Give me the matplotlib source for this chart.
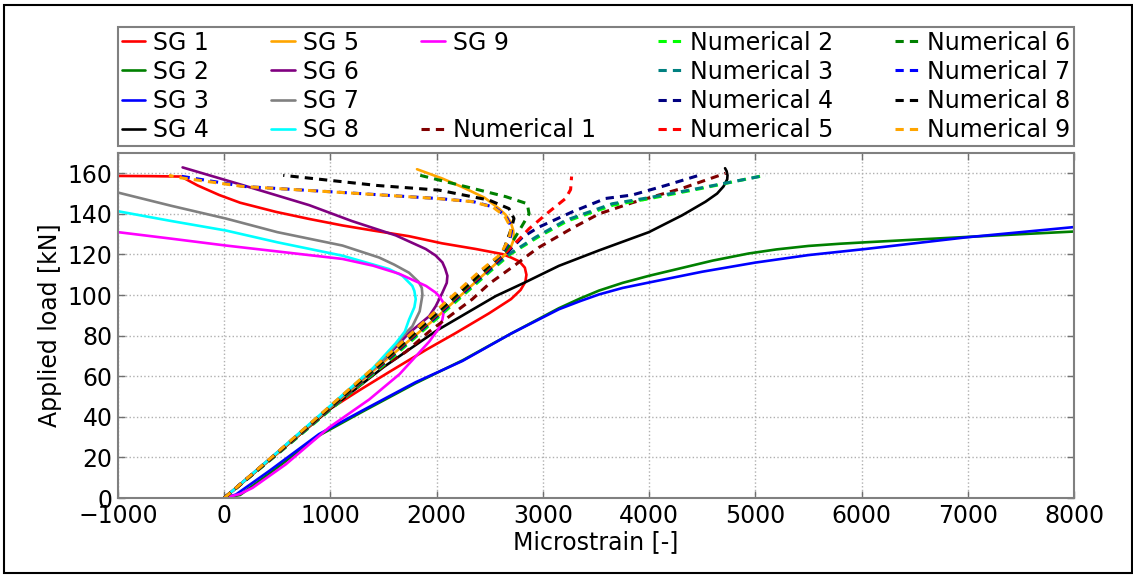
import matplotlib
matplotlib.use("Agg")
import matplotlib.pyplot as plt
from matplotlib.lines import Line2D
from matplotlib.patches import Rectangle

# ---- measured strain gauges (microstrain, kN) ----
SG1_X = [0, 500, 1000, 1270, 1550, 1900, 2180, 2493, 2700, 2790, 2835, 2845, 2830, 2780, 2700, 2618, 2368, 2050, 1740, 1400, 1113, 800, 486, 150, -47, -250, -407, -700, -1000]
SG1_Y = [0, 22, 44, 53, 62, 73, 81.3, 91, 98, 102.5, 106.5, 110, 113.5, 116.5, 118.5, 120.2, 122.7, 125.5, 129, 131.8, 134.3, 137.5, 141, 145.5, 149.3, 154, 158.4, 158.6, 158.7]

SG2_X = [0, 150, 450, 900, 1300, 1800, 2250, 2700, 3150, 3350, 3528, 3750, 4000, 4280, 4600, 4939, 5200, 5500, 5800, 6037, 6500, 6978, 7500, 8000]
SG2_Y = [0, 1.5, 13, 31, 42.5, 56.5, 68, 81, 93.5, 98.3, 102.2, 106, 109.5, 113, 117, 120.5, 122.5, 124.2, 125.3, 126, 127.3, 128.6, 130, 131.3]

SG3_X = [0, 110, 423, 893, 1301, 1800, 2242, 2700, 3151, 3350, 3528, 3750, 4000, 4500, 5000, 5500, 6037, 6500, 6978, 7500, 8000]
SG3_Y = [0, 1.7, 13.3, 31.5, 43.1, 57, 67.5, 81, 93, 97, 100.3, 103.5, 106.2, 111.5, 116, 119.7, 122.7, 125.5, 128.4, 131, 133.5]

SG4_X = [0, 500, 1000, 1500, 2000, 2556, 2822, 3151, 3528, 3998, 4311, 4531, 4640, 4700, 4735, 4738, 4730, 4715]
SG4_Y = [0, 22, 44, 64.5, 82.5, 99.5, 106, 114.4, 122, 131, 139.3, 146, 150, 153.5, 157, 159, 161, 162.5]

SG5_X = [0, 500, 1000, 1500, 2000, 2430, 2600, 2690, 2728, 2720, 2697, 2650, 2587, 2450, 2250, 2050, 1815]
SG5_Y = [0, 22, 44.5, 67, 89, 109.5, 117.5, 122.5, 127.7, 132, 136, 139.5, 142.6, 148, 153, 157.5, 162]

SG6_X = [0, 500, 1000, 1500, 1740, 1930, 1991, 2054, 2095, 2101, 2080, 2054, 1990, 1897, 1615, 1200, 800, 172, -392]
SG6_Y = [0, 22.5, 45, 68, 81.3, 89.6, 94.5, 101.2, 106, 109.5, 113, 116.1, 119.5, 122.7, 129.4, 136.5, 144.3, 154.2, 162.9]

SG7_X = [0, 500, 1000, 1500, 1677, 1771, 1840, 1866, 1860, 1830, 1740, 1600, 1458, 1113, 500, 16, -500, -1000]
SG7_Y = [0, 22.5, 45, 68, 79.6, 84.6, 92, 100, 103.5, 106.5, 111, 115, 118.5, 124.4, 131, 137.7, 144, 150.5]

SG8_X = [0, 500, 1000, 1400, 1615, 1700, 1740, 1790, 1803, 1790, 1771, 1677, 1552, 1113, 500, 16, -500, -1000]
SG8_Y = [0, 22.5, 45.5, 64, 76.3, 82, 87.9, 94, 98, 102, 104.5, 109.5, 112.8, 119.4, 126, 131.8, 136.5, 141.3]

SG9_X = [0, 150, 267, 580, 988, 1364, 1650, 1929, 2020, 2054, 2070, 2060, 2030, 1991, 1900, 1646, 1400, 1113, 500, 16, -500, -1000]
SG9_Y = [0, 2, 5, 16.6, 34.8, 48.5, 61, 77, 83.5, 87.9, 92.9, 96.5, 99, 101.2, 104.5, 110.5, 114.5, 117.8, 121.5, 124.4, 127.8, 131]

# ---- numerical model predictions ----
NUM1_X = [0, 500, 1000, 1500, 1709, 1929, 2336, 2493, 2744, 2870, 2963, 3277, 3528, 3841, 4311, 4719]
NUM1_Y = [0, 22, 44, 65, 72, 82, 98, 105.5, 115, 120, 123.5, 133, 140, 145.5, 152.6, 160]

NUM2_X = [0, 522, 1045, 1567, 2090, 2500, 2690, 2800, 2955, 3230, 3660, 4000, 4460, 5050]
NUM2_Y = [0, 22.5, 45.5, 68.5, 92.5, 111.5, 120, 123.6, 128.6, 136.5, 144.3, 147.5, 152.2, 158.6]

NUM3_X = [0, 518, 1036, 1554, 2072, 2485, 2675, 2785, 2935, 3214, 3653, 4000, 4468, 5096]
NUM3_Y = [0, 22.5, 45.5, 68.5, 92.5, 111.5, 120, 123.6, 128.6, 136.8, 145, 148, 152.6, 159]

NUM4_X = [0, 515, 1030, 1545, 2060, 2470, 2665, 2810, 2963, 3277, 3590, 3841, 4155, 4500]
NUM4_Y = [0, 22.5, 45.5, 68.5, 92.5, 111.5, 121, 128.6, 133.5, 141, 147.6, 149.3, 154, 159.5]

NUM5_X = [0, 512, 1024, 1536, 2048, 2457, 2650, 2780, 2870, 3057, 3214, 3261, 3270]
NUM5_Y = [0, 22.5, 45.5, 68.5, 92.5, 111.5, 121, 127.7, 132.7, 141, 147.6, 152, 158.4]

NUM6_X = [0, 509, 1018, 1527, 2036, 2443, 2635, 2730, 2806, 2870, 2853, 2650, 2336, 1845]
NUM6_Y = [0, 22.5, 45.5, 68.5, 92.5, 111.5, 121, 127.7, 134.3, 140, 145, 148.5, 152.6, 159]

NUM7_X = [0, 503, 1006, 1509, 2012, 2414, 2612, 2690, 2710, 2650, 2540, 2346, 2032, 1130, 190, -400]
NUM7_Y = [0, 22.5, 45.5, 68.5, 92.5, 111.5, 120, 127.7, 133, 139, 143.3, 146, 147.5, 150.5, 153.5, 158.5]

NUM8_X = [0, 506, 1012, 1518, 2024, 2429, 2622, 2697, 2728, 2681, 2493, 2022, 1440, 555]
NUM8_Y = [0, 22.5, 45.5, 68.5, 92.5, 111.5, 121, 131.8, 137.7, 142.6, 146.8, 151.7, 154, 159]

NUM9_X = [0, 500, 1000, 1500, 2000, 2400, 2600, 2681, 2700, 2640, 2530, 2336, 2022, 1120, 180, -440, -520]
NUM9_Y = [0, 22.5, 45.5, 68.5, 92.5, 111.5, 120, 127.7, 133, 139, 143.3, 146, 147.5, 150.5, 153.5, 158, 159]

SG_LABELS = ["SG 1", "SG 2", "SG 3", "SG 4", "SG 5", "SG 6", "SG 7", "SG 8", "SG 9"]
SG_COLORS = ["red", "green", "blue", "black", "orange", "purple", "gray", "cyan", "magenta"]
NUM_LABELS = ["Numerical 1", "Numerical 2", "Numerical 3", "Numerical 4", "Numerical 5",
              "Numerical 6", "Numerical 7", "Numerical 8", "Numerical 9"]
NUM_COLORS = ["maroon", "lime", "teal", "navy", "red", "green", "blue", "black", "orange"]

X_TICKS = [-1000, 0, 1000, 2000, 3000, 4000, 5000, 6000, 7000, 8000]
Y_TICKS = [0, 20, 40, 60, 80, 100, 120, 140, 160]

sg_data = [(SG1_X, SG1_Y), (SG2_X, SG2_Y), (SG3_X, SG3_Y), (SG4_X, SG4_Y), (SG5_X, SG5_Y),
           (SG6_X, SG6_Y), (SG7_X, SG7_Y), (SG8_X, SG8_Y), (SG9_X, SG9_Y)]
num_data = [(NUM1_X, NUM1_Y), (NUM2_X, NUM2_Y), (NUM3_X, NUM3_Y), (NUM4_X, NUM4_Y), (NUM5_X, NUM5_Y),
            (NUM6_X, NUM6_Y), (NUM7_X, NUM7_Y), (NUM8_X, NUM8_Y), (NUM9_X, NUM9_Y)]

FS = 17
plt.rcParams["font.family"] = ["DejaVu Sans"]
plt.rcParams["font.size"] = FS

fig = plt.figure(figsize=(11.33, 5.75), dpi=100)
ax = fig.add_axes([118 / 1133, 1 - 498 / 575, 956 / 1133, 345 / 575])

DASH = (0, (2.7, 2.0))
sg_handles = []
for (xs, ys), lab, col in zip(sg_data, SG_LABELS, SG_COLORS):
    h, = ax.plot(xs, ys, color=col, lw=1.9, label=lab,
                 solid_joinstyle="round", solid_capstyle="round")
    sg_handles.append(h)
num_handles = []
for (xs, ys), lab, col in zip(num_data, NUM_LABELS, NUM_COLORS):
    h, = ax.plot(xs, ys, color=col, lw=2.2, linestyle=DASH, label=lab)
    num_handles.append(h)

ax.set_xlim(-1000, 8000)
ax.set_ylim(0, 170)
ax.set_xticks(X_TICKS)
ax.set_yticks(Y_TICKS)
ax.grid(True, linestyle=":", color="#b0b0b0", lw=1.0)
ax.tick_params(direction="in", top=True, right=True, length=5, width=1, color="#707070",
               labelsize=FS, pad=4)
for sp in ax.spines.values():
    sp.set_color("#808080")
    sp.set_linewidth(1.5)
ax.set_xlabel("Microstrain [-]", fontsize=FS, labelpad=2)
ax.set_ylabel("Applied load [kN]", fontsize=FS, labelpad=4)

blank = Line2D([], [], color="none")
handles = sg_handles[:8] + [sg_handles[8], blank, blank, num_handles[0]] + num_handles[1:]
labels = SG_LABELS[:8] + [SG_LABELS[8], "", "", NUM_LABELS[0]] + NUM_LABELS[1:]
leg = fig.legend(handles, labels, ncol=5, mode="expand", loc="upper left",
                 bbox_to_anchor=(118 / 1133, 1 - 27 / 575, 956 / 1133, 0.0),
                 borderaxespad=0.0, fontsize=FS, handlelength=1.0, handletextpad=0.35,
                 labelspacing=0.22, borderpad=0.15, fancybox=False, framealpha=1)
leg.get_frame().set_edgecolor("#808080")
leg.get_frame().set_linewidth(1.5)

fig.patches.append(Rectangle((3.5 / 1133, 2 / 575), 1128 / 1133, 568 / 575,
                             transform=fig.transFigure, fill=False, edgecolor="black",
                             lw=1.5, figure=fig))

fig.savefig("out.png", dpi=100)
